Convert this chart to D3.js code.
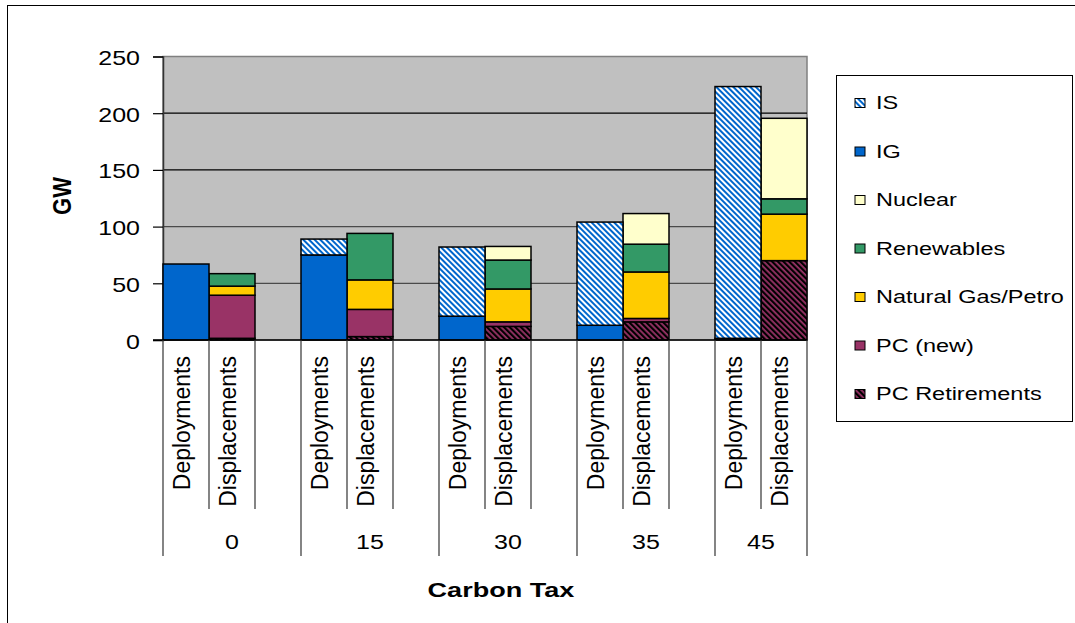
<!DOCTYPE html>
<html>
<head>
<meta charset="utf-8">
<script src="https://cdn.jsdelivr.net/npm/d3@7"></script>
<style>
  body { margin: 0; background: #fff; }
  text { font-family: "Liberation Sans", Arial, sans-serif; fill: #000; }
</style>
</head>
<body>
<div id="chart"></div>
<script>
// values (GW)
const taxes = ['0', '15', '30', '35', '45'];
const subCats = ['Deployments', 'Displacements'];
const yTicks = [0, 50, 100, 150, 200, 250];
// legend order (top of stack first)
const series = ['IS', 'IG', 'Nuclear', 'Renewables', 'Natural Gas/Petro', 'PC (new)', 'PC Retirements'];
// each array: [0 dep, 0 disp, 15 dep, 15 disp, 30 dep, 30 disp, 35 dep, 35 disp, 45 dep, 45 disp]
const isVals = [0, 0, 14, 0, 61, 0, 91, 0, 222, 0];
const igVals = [67, 0, 75, 0, 21, 0, 13, 0, 1.5, 0];
const nuclearVals = [0, 0, 0, 0, 0, 12, 0, 27, 0, 71];
const renewVals = [0, 11, 0, 41, 0, 25.5, 0, 24.5, 0, 13.5];
const gasVals = [0, 8, 0, 26, 0, 29, 0, 41, 0, 41];
const pcNewVals = [0, 38, 0, 24, 0, 4, 0, 3, 0, 0];
const pcRetVals = [0, 1.5, 0, 3, 0, 12, 0, 16, 0, 70];

const W = 1075, H = 623;
const plot = {left: 163, right: 807, top: 56.5, bottom: 340};
const SX = 1.25; // horizontal text is drawn wide in the original

const svg = d3.select('#chart').append('svg')
  .attr('width', W).attr('height', H);

// patterns for the hatched series
const defs = svg.append('defs');
function hatch(id, bg, fg, fgWidth) {
  const p = defs.append('pattern')
    .attr('id', id)
    .attr('patternUnits', 'userSpaceOnUse')
    .attr('width', 4).attr('height', 4)
    .attr('patternTransform', 'rotate(-45)');
  p.append('rect').attr('width', 4).attr('height', 4).attr('fill', bg);
  p.append('rect').attr('width', fgWidth).attr('height', 4).attr('fill', fg);
}
hatch('hatchIS', '#ffffff', '#0066cc', 2);
hatch('hatchRet', '#993366', '#000000', 2.2);

const fills = {
  'IS': 'url(#hatchIS)',
  'IG': '#0066cc',
  'Nuclear': '#ffffcc',
  'Renewables': '#339966',
  'Natural Gas/Petro': '#ffcc00',
  'PC (new)': '#993366',
  'PC Retirements': 'url(#hatchRet)'
};
const valuesBySeries = {
  'IS': isVals, 'IG': igVals, 'Nuclear': nuclearVals, 'Renewables': renewVals,
  'Natural Gas/Petro': gasVals, 'PC (new)': pcNewVals, 'PC Retirements': pcRetVals
};

// outer chart border
svg.append('rect')
  .attr('x', 7.5).attr('y', 5.5).attr('width', W + 10).attr('height', H + 10)
  .attr('fill', 'none').attr('stroke', '#000').attr('stroke-width', 1);

// category slots: dep, disp, gap for each tax (no gap after the last)
const slots = [];
taxes.forEach((t, i) => {
  subCats.forEach(s => slots.push({tax: t, sub: s, key: t + '|' + s}));
  if (i < taxes.length - 1) slots.push({tax: t, sub: '', key: t + '|gap'});
});

const x = d3.scaleBand()
  .domain(slots.map(d => d.key))
  .range([plot.left, plot.right])
  .padding(0);

const y = d3.scaleLinear()
  .domain([0, 250])
  .range([plot.bottom, plot.top]);

// plot background
svg.append('rect')
  .attr('x', plot.left).attr('y', plot.top)
  .attr('width', plot.right - plot.left).attr('height', plot.bottom - plot.top)
  .attr('fill', '#c0c0c0').attr('stroke', '#808080').attr('stroke-width', 1.5);

// gridlines
svg.append('g')
  .selectAll('line')
  .data(yTicks.filter(v => v > 0 && v < 250))
  .join('line')
  .attr('x1', plot.left).attr('x2', plot.right)
  .attr('y1', d => y(d)).attr('y2', d => y(d))
  .attr('stroke', d => d >= 150 ? '#000' : '#4a4a4a')
  .attr('stroke-width', 1.2);

// y axis
const yAxis = svg.append('g')
  .attr('transform', `translate(${plot.left},0)`)
  .call(d3.axisLeft(y).tickValues(yTicks).tickSize(10).tickPadding(0));
yAxis.select('.domain').attr('stroke', '#333').attr('stroke-width', 1.5);
yAxis.selectAll('.tick line').attr('stroke', '#000').attr('stroke-width', 1.2);
yAxis.selectAll('.tick text').remove();
yAxis.selectAll('.tick')
  .append('text')
  .attr('text-anchor', 'end')
  .attr('font-size', 21)
  .attr('transform', `translate(-23,8) scale(1.19,1)`)
  .text(d => d);

// stacked bars
const rows = [];
taxes.forEach((t, i) => {
  subCats.forEach((s, j) => {
    const row = {key: t + '|' + s};
    series.forEach(name => { row[name] = valuesBySeries[name][i * 2 + j]; });
    rows.push(row);
  });
});
const stackOrder = series.slice().reverse(); // bottom first
const stacked = d3.stack().keys(stackOrder)(rows);

svg.append('g')
  .selectAll('g')
  .data(stacked)
  .join('g')
  .attr('fill', d => fills[d.key])
  .selectAll('rect')
  .data(d => d.filter(p => p[1] - p[0] > 0))
  .join('rect')
  .attr('x', d => x(d.data.key))
  .attr('width', x.bandwidth())
  .attr('y', d => y(d[1]))
  .attr('height', d => y(d[0]) - y(d[1]))
  .attr('stroke', '#000')
  .attr('stroke-width', 1.5);

// x axis line
svg.append('line')
  .attr('x1', plot.left - 10).attr('x2', plot.right)
  .attr('y1', plot.bottom).attr('y2', plot.bottom)
  .attr('stroke', '#000').attr('stroke-width', 1.5);

// multi-level category axis: boundaries
const bounds = slots.map((d, i) => ({x: x(d.key), group: i % 3 === 0}));
bounds.push({x: plot.right, group: true});
svg.append('g')
  .selectAll('line')
  .data(bounds)
  .join('line')
  .attr('x1', d => d.x).attr('x2', d => d.x)
  .attr('y1', plot.bottom)
  .attr('y2', d => d.group ? 556 : 509)
  .attr('stroke', '#333').attr('stroke-width', 1.2);

// rotated sub labels
svg.append('g')
  .selectAll('text')
  .data(slots.filter(d => d.sub))
  .join('text')
  .attr('text-anchor', 'end')
  .attr('font-size', 23)
  .attr('transform', d => `translate(${x(d.key) + x.bandwidth() / 2 + 4},356) rotate(-90)`)
  .text(d => d.sub);

// group labels
svg.append('g')
  .selectAll('text')
  .data(taxes)
  .join('text')
  .attr('text-anchor', 'middle')
  .attr('font-size', 20)
  .attr('transform', t => {
    const x0 = x(t + '|Deployments');
    const last = t === taxes[taxes.length - 1];
    const x1 = last ? plot.right : x(t + '|gap') + x.bandwidth();
    return `translate(${(x0 + x1) / 2},549) scale(${SX},1)`;
  })
  .text(t => t);

// axis titles
svg.append('text')
  .attr('text-anchor', 'middle')
  .attr('font-size', 20.5)
  .attr('font-weight', 'bold')
  .attr('transform', 'translate(501,597) scale(1.32,1)')
  .text('Carbon Tax');

svg.append('text')
  .attr('text-anchor', 'middle')
  .attr('font-size', 22)
  .attr('font-weight', 'bold')
  .attr('transform', 'translate(71,196) rotate(-90) scale(1,1.15)')
  .text('GW');

// legend
const legend = svg.append('g');
legend.append('rect')
  .attr('x', 836.5).attr('y', 75.5).attr('width', 236).attr('height', 346)
  .attr('fill', '#fff').attr('stroke', '#000').attr('stroke-width', 1);

const ly = d3.scalePoint().domain(series).range([102, 393]);
const items = legend.selectAll('g.item')
  .data(series)
  .join('g')
  .attr('class', 'item')
  .attr('transform', d => `translate(0,${ly(d)})`);
items.append('rect')
  .attr('x', 855).attr('y', -3.5).attr('width', 10).attr('height', 9)
  .attr('fill', d => fills[d])
  .attr('stroke', '#000').attr('stroke-width', 1);
items.append('text')
  .attr('font-size', 18.5)
  .attr('transform', 'translate(876,7) scale(1.27,1)')
  .text(d => d);
</script>
</body>
</html>
